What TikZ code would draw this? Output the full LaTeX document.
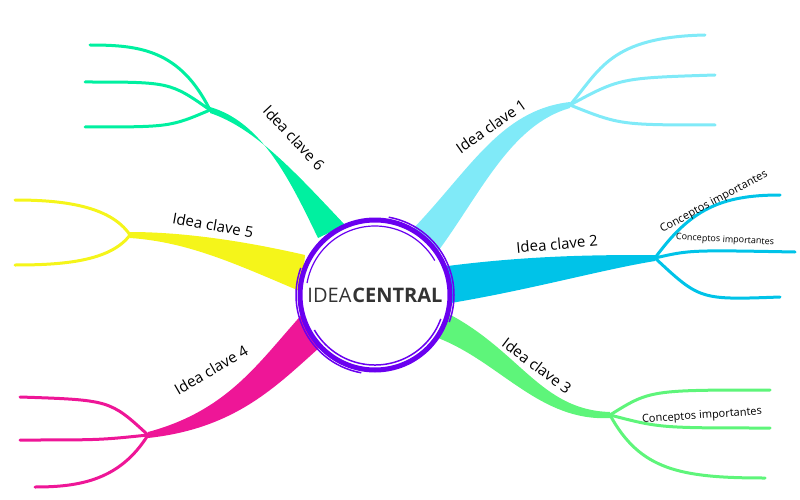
\documentclass[tikz,border=0pt]{standalone}
\usepackage{fontspec}
\setmainfont{Open Sans}
\begin{document}
\begin{tikzpicture}[x=1pt,y=-1pt,
  twig/.style={line width=3pt,line cap=round},
  lbl/.style={font=\fontsize{15}{15}\selectfont,text=black,inner sep=0pt},
  sub/.style={font=\fontsize{11}{11}\selectfont,text=black,inner sep=0pt}]
\definecolor{cA}{HTML}{80EAF8}\definecolor{cB}{HTML}{00C3E8}
\definecolor{cC}{HTML}{5EF57A}\definecolor{cD}{HTML}{EE1697}
\definecolor{cE}{HTML}{F5F51A}\definecolor{cF}{HTML}{00F0A0}
\definecolor{pur}{HTML}{6A00F0}
\useasboundingbox (0,0) rectangle (800,500);
% fork coordinates
\coordinate (f1) at (570,105);\coordinate (f2) at (655,258);
\coordinate (f3) at (610,415);\coordinate (f4) at (148,435);
\coordinate (f5) at (130,235);\coordinate (f6) at (210,110);
% branch 1
\fill[cA] (410,232) .. controls (470,170) and (500,110) .. (570,102) -- (570,108) .. controls (510,125) and (480,195) .. (436,254) -- cycle;
\draw[twig,cA] (f1) .. controls (600,70) and (610,37) .. (705,35);
\draw[twig,cA] (f1) .. controls (620,78) .. (715,75);
\draw[twig,cA] (f1) .. controls (620,125) .. (715,125);
% branch 2
\fill[cB] (440,267) .. controls (530,255) and (600,255) .. (655,255) -- (655,261) .. controls (600,270) and (530,290) .. (445,304) -- cycle;
\draw[twig,cB] (f2) .. controls (690,210) and (720,195) .. (780,195);
\draw[twig,cB] (f2) .. controls (690,250) .. (795,252);
\draw[twig,cB] (f2) .. controls (700,300) .. (780,297);
% branch 3
\fill[cC] (445,312) .. controls (520,350) and (540,410) .. (610,412) -- (610,418) .. controls (540,422) and (500,362) .. (438,338) -- cycle;
\draw[twig,cC] (f3) .. controls (650,390) .. (770,390);
\draw[twig,cC] (f3) .. controls (660,428) .. (770,428);
\draw[twig,cC] (f3) .. controls (640,470) and (680,478) .. (765,478);
% branch 4
\fill[cD] (306,310) .. controls (260,360) and (230,410) .. (148,432) -- (148,438) .. controls (240,428) and (280,382) .. (328,340) -- cycle;
\draw[twig,cD] (f4) .. controls (110,400) .. (20,397);
\draw[twig,cD] (f4) .. controls (100,440) .. (20,440);
\draw[twig,cD] (f4) .. controls (120,480) and (80,487) .. (35,487);
% branch 5
\fill[cE] (305,255) .. controls (240,240) and (180,232) .. (130,232) -- (130,238) .. controls (190,242) and (240,266) .. (302,292) -- cycle;
\draw[twig,cE] (f5) .. controls (110,205) and (60,200) .. (15,200);
\draw[twig,cE] (f5) .. controls (110,262) and (60,265) .. (15,265);
% branch 6
\fill[cF] (318,238) .. controls (290,180) and (262,122) .. (210,107) -- (210,113) .. controls (255,128) and (295,172) .. (345,225) -- cycle;
\draw[twig,cF] (f6) .. controls (180,50) and (140,45) .. (90,45);
\draw[twig,cF] (f6) .. controls (170,82) .. (85,82);
\draw[twig,cF] (f6) .. controls (170,127) .. (85,127);
% centre
\node[circle,minimum size=150pt,fill=white,draw=pur,line width=5pt,inner sep=0pt] (c) at (375,295)
  {\fontsize{20}{20}\selectfont\color[HTML]{333333}IDEA\hspace{1pt}\textbf{CENTRAL}};
\draw[pur,line width=1.5pt] (375,295) ++(20:70) arc[start angle=20,end angle=150,radius=70];
\draw[pur,line width=1.2pt] (375,295) ++(190:69) arc[start angle=190,end angle=330,radius=69];
\draw[pur,line width=1.5pt] (375,295) ++(100:79) arc[start angle=100,end angle=200,radius=79];
\draw[pur,line width=1.5pt] (375,295) ++(280:79) arc[start angle=280,end angle=380,radius=79];
% labels
\node[lbl,rotate=35] (l1) at (491,126) {Idea clave 1};
\node[lbl,rotate=5] (l2) at (557,244) {Idea clave 2};
\node[lbl,rotate=-37] (l3) at (537,366) {Idea clave 3};
\node[lbl,rotate=30] (l4) at (211,370) {Idea clave 4};
\node[lbl,rotate=-10] (l5) at (213,225) {Idea clave 5};
\node[lbl,rotate=-47] (l6) at (294,138) {Idea clave 6};
\node[sub,rotate=28] (s1) at (714,202) {Conceptos importantes};
\node[font=\fontsize{9}{9}\selectfont,inner sep=0pt,rotate=-3] (s2) at (725,240) {Conceptos importantes};
\node[sub,rotate=4] (s3) at (702,416) {Conceptos importantes};
\end{tikzpicture}
\end{document}
